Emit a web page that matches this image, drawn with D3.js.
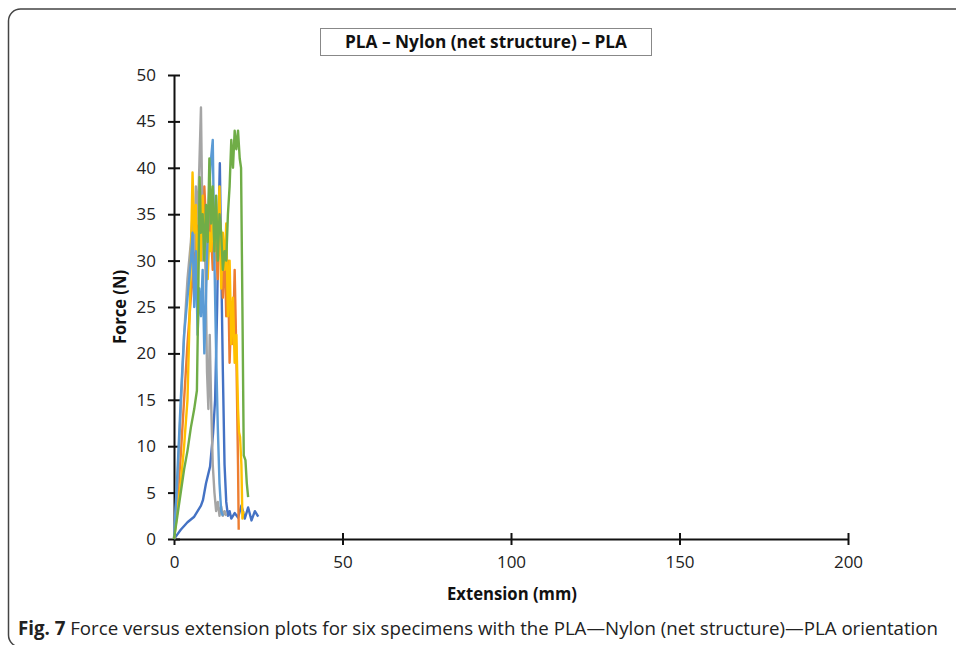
<!DOCTYPE html>
<html>
<head>
<meta charset="utf-8">
<script src="https://cdn.jsdelivr.net/npm/d3@7"></script>
<style>
  body { margin: 0; background: #fff; }
  svg { display: block; font-family: 'Open Sans', sans-serif; }
</style>
</head>
<body>
<div id="chart"></div>
<script>
// Six specimens, extension (mm) / force (N)
const spec1Ext = [0,1,2,3,4,5,6,7,8,8.6,9.5,10.7,11.6,12.2,12.8,13.2,13.6,14,14.5,15,15.5,16,16.5,17,18,19,20,21,22,23,24,25];
const spec1Force = [0,0.5,1,1.4,1.8,2.1,2.4,3,3.6,4.2,6,7.8,11.4,15,25,34,40.5,30,18,8,4,2.5,3,2.2,2.8,2.3,3.6,2.2,3.4,2,3,2.4];

const spec2Ext = [0,1,2,3,4,5,6,6.5,7,7.5,8,8.5,9,9.5,10,10.5,11,11.5,12,12.5,13,13.5,14,14.5,15,15.5,16,16.5,17,17.5,18,18.5,19,19.2];
const spec2Force = [0,4,9,15,21,26,30,33,36,31,35,32,38,34,30,36,33,29,35,31,28,34,30,26,32,24,30,19,25,21,29,20,8,1];

const spec3Ext = [0,1,2,3,4,5,5.5,6,6.5,7,7.5,8,8.3,8.6,9,9.4,9.8,10.2,10.6,11,11.5,12,12.5,13,13.5,14,14.5,15,15.5];
const spec3Force = [0,6,14,22,28,32,35,31,38,34,40,46.5,38,30,34,28,18,14,22,15,8,5,3,4,2.5,3.5,2.5,3,2.5];

const spec4Ext = [0,1,2,3,4,4.5,5,5.5,6,6.5,7,7.5,8,8.5,9,9.5,10,10.5,11,11.5,12,12.5,13,13.5,14,14.5,15,15.5,16,16.5,17,17.5,18,18.5,19,19.3,19.6,20,20.3,20.6];
const spec4Force = [0,3,6,10,15,22,30,39.5,33,36,28,34,30,37,32,35,28,33,31,36,30,35,33,38,27,33,29,34,24,30,21,26,19,22,14,11.5,11,8,2.2,3];

const spec5Ext = [0,1,2,3,4,5,5.5,6,6.5,7,7.5,8,8.5,9,9.5,10,10.5,11,11.5,12,12.5,13,13.5,14,14.5];
const spec5Force = [0,7,15,22,26,30,33,25,31,22,27,24,29,20,26,33,38,41,43,30,20,12,6,3,2.5];

const spec6Ext = [0,1,2,3,4,5,6,6.8,7.2,7.6,8,8.5,9,9.5,10,10.5,11,11.5,12,12.5,13,13.5,14,14.5,15,15.5,16,16.5,17,17.5,18,18.5,19,19.5,19.9,20.3,20.7,21.2,21.6,22];
const spec6Force = [0,2.5,5,7.5,9.5,12,14,16,26,39,33,35,30,36,32,41,34,38,31,37,30,35,33,29,31,30,35,38,43,40,44,42,44,41,40,25,9,8.5,6,4.5];

const seriesColors = ['#4472c4', '#ed7d31', '#a5a5a5', '#ffc000', '#5b9bd5', '#70ad47'];
const xTicks = [0, 50, 100, 150, 200];
const yTicks = [0, 5, 10, 15, 20, 25, 30, 35, 40, 45, 50];

const chartTitle = 'PLA – Nylon (net structure) – PLA';
const xLabel = 'Extension (mm)';
const yLabel = 'Force (N)';
const captionBold = 'Fig. 7';
const captionText = 'Force versus extension plots for six specimens with the PLA—Nylon (net structure)—PLA orientation';

const width = 956;
const height = 645;
const margin = {top: 75, left: 174, right: 108, bottom: 106};
const fontSize = '17px';

const svg = d3.select('#chart')
  .append('svg')
  .attr('width', width)
  .attr('height', height);

// figure frame (rounded left corners, right side runs off the page)
svg.append('rect')
  .attr('x', 8.5)
  .attr('y', 9)
  .attr('width', 1000)
  .attr('height', 638)
  .attr('rx', 12)
  .attr('fill', 'none')
  .attr('stroke', '#444')
  .attr('stroke-width', 1.5);

const xScale = d3.scaleLinear()
  .domain([0, 200])
  .range([margin.left, width - margin.right]);

const yScale = d3.scaleLinear()
  .domain([0, 50])
  .range([height - margin.bottom, margin.top]);

// title box
svg.append('rect')
  .attr('x', 320.5)
  .attr('y', 28.5)
  .attr('width', 331)
  .attr('height', 27)
  .attr('fill', '#fff')
  .attr('stroke', '#888')
  .attr('stroke-width', 1);

svg.append('text')
  .attr('x', 486)
  .attr('y', 48)
  .attr('text-anchor', 'middle')
  .attr('textLength', 282)
  .attr('lengthAdjust', 'spacingAndGlyphs')
  .style('font-size', '17px')
  .style('font-weight', 'bold')
  .style('fill', '#111')
  .text(chartTitle);

// y-axis with crossing ticks
const yAxis = svg.append('g')
  .attr('class', 'y-axis')
  .attr('transform', `translate(${margin.left}, 0)`)
  .call(d3.axisLeft(yScale).tickValues(yTicks).tickSize(6).tickSizeOuter(0));
yAxis.selectAll('.tick line').attr('x2', 6).attr('x1', -6);
yAxis.selectAll('.tick text').attr('x', -18).style('font-size', fontSize).style('fill', '#222');

// x-axis with crossing ticks
const xAxis = svg.append('g')
  .attr('class', 'x-axis')
  .attr('transform', `translate(0, ${height - margin.bottom})`)
  .call(d3.axisBottom(xScale).tickValues(xTicks).tickSize(6).tickSizeOuter(0));
xAxis.selectAll('.tick line').attr('y1', -6).attr('y2', 6);
xAxis.selectAll('.tick text').attr('y', 17).style('font-size', fontSize).style('fill', '#222');

svg.selectAll('.domain, .tick line')
  .attr('stroke', '#111')
  .attr('stroke-width', 2);
svg.selectAll('.tick text').style('font-family', "'Open Sans', sans-serif");

// axis labels
svg.append('text')
  .attr('x', 512)
  .attr('y', 600)
  .attr('text-anchor', 'middle')
  .attr('textLength', 130)
  .attr('lengthAdjust', 'spacingAndGlyphs')
  .style('font-size', '17px')
  .style('font-weight', 'bold')
  .style('fill', '#111')
  .text(xLabel);

svg.append('text')
  .attr('transform', 'rotate(-90)')
  .attr('x', -307)
  .attr('y', 126)
  .attr('text-anchor', 'middle')
  .attr('textLength', 74)
  .attr('lengthAdjust', 'spacingAndGlyphs')
  .style('font-size', '17px')
  .style('font-weight', 'bold')
  .style('fill', '#111')
  .text(yLabel);

// specimen curves
const specimens = [
  [spec1Ext, spec1Force],
  [spec2Ext, spec2Force],
  [spec3Ext, spec3Force],
  [spec4Ext, spec4Force],
  [spec5Ext, spec5Force],
  [spec6Ext, spec6Force]
].map(([ext, force]) => ext.map((e, i) => ({x: e, y: force[i]})));

const line = d3.line()
  .x(d => xScale(d.x))
  .y(d => yScale(d.y));

svg.selectAll('.specimen')
  .data(specimens)
  .enter()
  .append('path')
  .attr('class', 'specimen')
  .attr('d', line)
  .attr('fill', 'none')
  .attr('stroke', (d, i) => seriesColors[i])
  .attr('stroke-width', 2.4)
  .attr('stroke-linejoin', 'round');

// caption
const caption = svg.append('text')
  .attr('x', 18)
  .attr('y', 635)
  .attr('textLength', 920)
  .attr('lengthAdjust', 'spacingAndGlyphs')
  .style('font-size', '19px')
  .style('fill', '#222');
caption.append('tspan').style('font-weight', 'bold').text(captionBold);
caption.append('tspan').text('  ' + captionText);
</script>
</body>
</html>
